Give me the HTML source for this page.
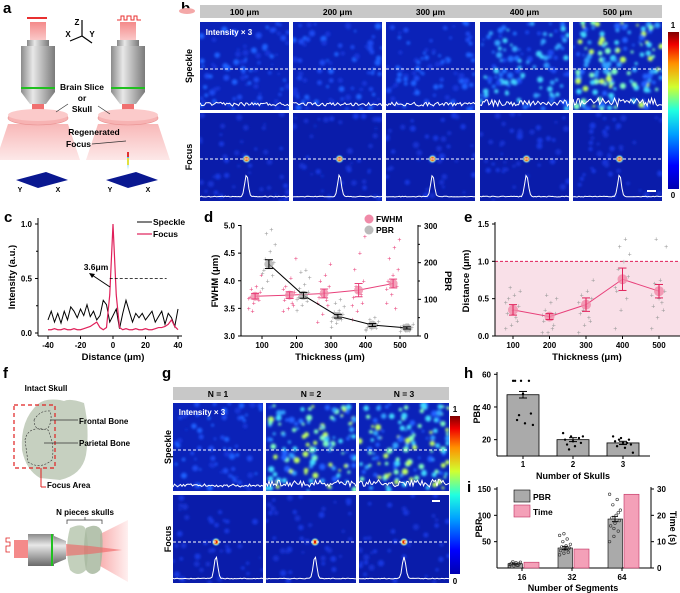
<!DOCTYPE html>
<html><head><meta charset="utf-8"><style>
body{margin:0;background:#fff}
svg{display:block;font-family:"Liberation Sans",Arial,sans-serif}
</style></head><body>
<svg id="fig" width="680" height="593" viewBox="0 0 680 593" xmlns="http://www.w3.org/2000/svg">
<defs>
<filter id="blur" x="-20%" y="-20%" width="140%" height="140%"><feGaussianBlur stdDeviation="1.3"/></filter>
<filter id="sblur" x="-50%" y="-50%" width="200%" height="200%"><feGaussianBlur stdDeviation="0.6"/></filter>
<linearGradient id="jet" x1="0" y1="1" x2="0" y2="0">
<stop offset="0" stop-color="#0000b0"/><stop offset="0.15" stop-color="#0000ff"/><stop offset="0.35" stop-color="#00a0ff"/><stop offset="0.5" stop-color="#20ffe0"/><stop offset="0.65" stop-color="#d0ff30"/><stop offset="0.8" stop-color="#ff9000"/><stop offset="0.92" stop-color="#f00000"/><stop offset="1" stop-color="#800000"/></linearGradient>
<linearGradient id="obj" x1="0" x2="1"><stop offset="0" stop-color="#8a8a8a"/><stop offset="0.35" stop-color="#e8e8e8"/><stop offset="1" stop-color="#7a7a7a"/></linearGradient>
<linearGradient id="objh" x1="0" y1="0" x2="0" y2="1"><stop offset="0" stop-color="#8a8a8a"/><stop offset="0.35" stop-color="#e8e8e8"/><stop offset="1" stop-color="#6a6a6a"/></linearGradient>
<linearGradient id="beam" x1="0" y1="0" x2="0" y2="1"><stop offset="0" stop-color="#f48a8a"/><stop offset="1" stop-color="#fbd0d0"/></linearGradient>
<linearGradient id="cone" x1="0" y1="0" x2="0" y2="1"><stop offset="0" stop-color="#f8b8b8"/><stop offset="1" stop-color="#fde8e8"/></linearGradient>
<linearGradient id="coneh" x1="0" x2="1"><stop offset="0" stop-color="#f8b0b0"/><stop offset="1" stop-color="#fff0f0"/></linearGradient>
</defs>
<g id="root"></g>
</svg>
<script>
const cDist = [-40,-38,-36,-34,-32,-30,-28,-26,-24,-22,-20,-18,-16,-14,-12,-10,-8,-6,-4,-2,0,2,4,6,8,10,12,14,16,18,20,22,24,26,28,30,32,34,36,38,40];
const cSpeckle = [0.12,0.2,0.1,0.18,0.09,0.2,0.12,0.24,0.2,0.14,0.22,0.16,0.26,0.15,0.2,0.12,0.16,0.3,0.26,0.1,0.16,0.22,0.04,0.18,0.3,0.2,0.1,0.18,0.14,0.18,0.12,0.16,0.2,0.1,0.15,0.2,0.08,0.18,0.14,0.06,0.22];
const cFocus = [0.03,0.03,0.04,0.03,0.03,0.04,0.03,0.03,0.04,0.03,0.03,0.04,0.05,0.06,0.08,0.1,0.05,0.03,0.05,0.35,1.0,0.35,0.05,0.03,0.04,0.03,0.03,0.04,0.03,0.03,0.04,0.03,0.03,0.04,0.05,0.05,0.06,0.08,0.12,0.06,0.03];
const dThick = [100,200,300,400,500];
const dFwhmMean = [3.72,3.74,3.77,3.83,3.95];
const dFwhmErr = [0.05,0.06,0.08,0.12,0.08];
const dPbrMean = [196,111,54,30,22];
const dPbrErr = [12,8,5,4,3];
const dFwhmPts = [[3.5,3.6,3.65,3.7,3.75,3.8,3.85,3.9,4.1,3.45,3.72,3.68],[3.45,3.5,3.55,3.65,3.7,3.8,3.9,4.05,4.4,3.75,3.6,3.85],[3.25,3.4,3.55,3.7,3.8,3.9,4.0,4.1,4.3,3.75,3.65,3.6],[3.3,3.45,3.6,3.7,3.8,4.0,4.2,4.5,4.8,3.9,3.75,3.55],[3.6,3.75,3.9,4.0,4.1,4.2,4.4,4.6,4.75,3.95,3.5,3.85]];
const dPbrPts = [[130,150,165,180,190,200,210,230,250,280,290,170],[70,85,95,105,110,120,130,140,160,175,180,100],[25,35,45,50,55,60,65,70,80,90,100,40],[15,20,22,25,28,30,32,35,40,45,50,18],[12,15,18,20,22,25,28,30,33,20,15,25]];
const eMean = [0.35,0.26,0.42,0.76,0.60];
const eErr = [0.07,0.04,0.09,0.15,0.09];
const ePts = [[0.1,0.15,0.2,0.3,0.35,0.4,0.5,0.55,0.6,0.65,0.25,0.45],[0.05,0.05,0.15,0.2,0.25,0.3,0.35,0.45,0.5,0.55,0.1,0.28],[0.05,0.15,0.2,0.3,0.4,0.5,0.55,0.6,0.75,0.35,0.25,0.45],[0.1,0.35,0.5,0.6,0.7,0.8,0.9,1.0,1.1,1.2,1.3,0.65],[0.1,0.25,0.35,0.4,0.5,0.6,0.7,0.75,1.2,1.3,0.45,0.55]];
const hCats = ["1","2","3"];
const hMean = [47.5,20,18];
const hErr = [2,1.2,1];
const hPts = [[56,56,56,56,48,36,32,30,29,35],[24,22,21,20,19,18,17,16,22,14],[22,21,20,19,18,17,16,15,12,20,18]];
const iCats = ["16","32","64"];
const iPbr = [8,38,93];
const iPbrErr = [1,3,5];
const iTime = [2.2,7.2,28];
const iPbrPts = [[3,4,5,6,7,8,9,10,11,12,5,7],[25,28,30,33,35,38,40,42,45,50,55,62,65,36],[50,60,70,80,85,90,95,100,110,120,130,140,75,105]];
const bCols = ["100 μm","200 μm","300 μm","400 μm","500 μm"];
const gCols = ["N = 1","N = 2","N = 3"];

const NS="http://www.w3.org/2000/svg";
const root=document.getElementById('root');
function el(tag,attrs,parent,txt){const e=document.createElementNS(NS,tag);for(const k in attrs)e.setAttribute(k,attrs[k]);if(txt!==undefined)e.textContent=txt;(parent||root).appendChild(e);return e;}
function lin(d0,d1,r0,r1){return v=>r0+(v-d0)*(r1-r0)/(d1-d0);}
function txt(x,y,s,opt,p){opt=opt||{};const t=el('text',Object.assign({x:x,y:y,'font-size':opt.fs||9,'font-weight':opt.fw||'bold','text-anchor':opt.a||'middle',fill:opt.fill||'#000'},opt.tr?{transform:opt.tr}:{}),p,s);return t;}
function line(x1,y1,x2,y2,st,w,p,extra){return el('line',Object.assign({x1:x1,y1:y1,x2:x2,y2:y2,stroke:st||'#000','stroke-width':w||1},extra||{}),p);}
function jit(i){return ((i*37)%11-5)*0.9;}

[["a",3,13],["b",181,13],["c",4,222],["d",204,222],["e",464,222],["f",3,378],["g",162,378],["h",464,378],["i",467,492]].forEach(p=>{const t=txt(p[1],p[2],p[0],{fs:15,a:'start'});});

const pa=el('g',{});  
function objective(cx,p){
  el('rect',{x:cx-8,y:22,width:16,height:20,fill:'url(#beam)'},p);
  el('rect',{x:cx-11,y:40,width:22,height:6,fill:'url(#obj)'},p);
  el('path',{d:`M${cx-17},46 h34 v46 l-9,12 h-16 l-9,-12 z`,fill:'url(#obj)'},p);
  el('rect',{x:cx-17,y:87,width:34,height:2,fill:'#20c020'},p);
  el('rect',{x:cx-6,y:104,width:12,height:10,fill:'#f07070'},p);
  el('path',{d:`M${cx-30},124 L${cx+30},124 L${cx+42},160 L${cx-42},160 z`,fill:'url(#cone)'},p);
  el('ellipse',{cx:cx,cy:118,rx:30,ry:7,fill:'#f7b3b3',stroke:'#e89090','stroke-width':0.6},p);
  el('ellipse',{cx:cx,cy:115,rx:30,ry:6,fill:'#fbcaca'},p);
  el('path',{d:`M${cx-22},180 l30,-8 l22,8 l-30,8 z`,fill:'#0a1890'},p);
  txt(cx-18,192,'Y',{fs:7},p); txt(cx+20,192,'X',{fs:7},p);
}
objective(38,pa); objective(128,pa);
el('rect',{x:27,y:17,width:20,height:2,fill:'#e83030'},pa);
el('polyline',{points:'117,20 121,20 121,16 124,16 124,20 127,20 127,16 131,16 131,20 134,20 134,16 137,16 137,20 141,20',fill:'none',stroke:'#e83030','stroke-width':1},pa);
el('path',{d:'M128,170 l-1,-14 h2 z',fill:'#40c0ff'},pa); el('rect',{x:127,y:158,width:2,height:7,fill:'#e0e040'},pa); el('rect',{x:127,y:152,width:2,height:5,fill:'#e03030'},pa);
line(82,36,82,20,'#000',1.2,pa); line(82,36,70,41,'#000',1.2,pa); line(82,36,92,43,'#000',1.2,pa);
txt(77,25,'Z',{fs:8},pa); txt(68,37,'X',{fs:8},pa); txt(92,37,'Y',{fs:8},pa);
txt(82,90,'Brain Slice',{fs:8.5},pa); txt(82,101,'or',{fs:8.5},pa); txt(82,112,'Skull',{fs:8.5},pa);
line(68,104,56,112,'#333',0.7,pa); line(98,106,110,114,'#333',0.7,pa);
txt(94,135,'Regenerated',{fs:8.5},pa); txt(66,147,'Focus',{fs:8.5,a:'start'},pa); line(92,144,126,141,'#333',0.7,pa);

function rng(s){return ()=>{s=(s*1103515245+12345)%2147483648;return s/2147483648;};}
let clipId=0;
function heat(x,y,w,h,level,seed,focus,dashY,nameStr){
  const g=el('g',{});  
  const cid='cl'+(clipId++); const cp=el('clipPath',{id:cid},g); el('rect',{x:x,y:y,width:w,height:h},cp);
  el('rect',{x:x,y:y,width:w,height:h,fill:focus?'#0a1caa':'#0b22b8'},g);
  const bl=el('g',{'clip-path':`url(#${cid})`},g); const bb=el('g',{filter:'url(#blur)'},bl);
  const r=rng(seed); const n=focus?40:Math.round(60+level*90);
  const cols=focus?['#1530d0','#1838e0']:(level<0.3?['#1535d8','#1a48f0','#1e60ff']:level<0.7?['#1a48f0','#2070ff','#30a0ff','#40d0ff']:['#2060ff','#30a0ff','#40d8ff','#80ffc0','#c0ff60']);
  for(let i=0;i<n;i++){el('circle',{cx:x+r()*w,cy:y+r()*h,r:1.2+r()*2,fill:cols[Math.floor(r()*cols.length)]},bb);}
  const by=y+h-4; let pts=[];
  if(focus){const cx=x+w*0.5+(seed%5-2)*2;const sg=el('g',{filter:'url(#sblur)'},bl);
    el('circle',{cx:cx,cy:dashY,r:3.6,fill:'#40d0ff'},sg);el('circle',{cx:cx,cy:dashY,r:2.8,fill:'#ffe020'},sg);el('circle',{cx:cx,cy:dashY,r:1.9,fill:'#e00000'},sg);
    for(let i=0;i<=60;i++){const px=x+i*w/60;const d=(px-cx)/2.5;pts.push(px.toFixed(1)+','+(by-22*Math.exp(-d*d)-r()*0.8).toFixed(1));}}
  else{for(let i=0;i<=60;i++){pts.push((x+i*w/60).toFixed(1)+','+(by-r()*(2+level*7)).toFixed(1));}}
  el('polyline',{points:pts.join(' '),fill:'none',stroke:'#fff','stroke-width':1},bl);
  line(x,dashY,x+w,dashY,'#fff',1,g,{'stroke-dasharray':'3,2'});
  return g;
}
el('rect',{x:200,y:5,width:462,height:13,fill:'#c8c8c8'});
el('ellipse',{cx:187,cy:11,rx:8,ry:3,fill:'#f4a8a8'});
const bx=[200,293,386,480,573], bw=89;
const bLevels=[0.25,0.2,0.25,0.6,0.85];
bCols.forEach((c,i)=>{txt(bx[i]+bw/2,15,c,{fs:8.5,name:'b-column-title'});
  heat(bx[i],22,bw,88,bLevels[i],11+i*7,false,69,'b-speckle-image');
  heat(bx[i],113,bw,88,0,53+i*5,true,159,'b-focus-image');});
txt(229,35,'Intensity × 3',{fs:8,fill:'#fff'});
el('rect',{x:647,y:190,width:9,height:2,fill:'#fff'});
txt(192,66,'Speckle',{fs:9,tr:'rotate(-90 192 66)'}); txt(192,157,'Focus',{fs:9,tr:'rotate(-90 192 157)'});
el('rect',{x:668,y:32,width:11,height:157,fill:'url(#jet)'});
txt(673,28,'1',{fs:8}); txt(673,198,'0',{fs:8});

el('rect',{x:173,y:387,width:276,height:13,fill:'#c8c8c8'});
const gx=[173,266,359], gw=90, gLevels=[0.15,0.75,0.8];
gCols.forEach((c,i)=>{txt(gx[i]+gw/2,397,c,{fs:8.5,name:'g-column-title'});
  heat(gx[i],403,gw,88,gLevels[i],91+i*13,false,450,'g-speckle-image');
  heat(gx[i],495,gw,88,0.3,131+i*3,true,542,'g-focus-image');});
txt(202,415,'Intensity × 3',{fs:8,fill:'#fff'});
el('rect',{x:432,y:500,width:8,height:2,fill:'#fff'});
txt(171,447,'Speckle',{fs:9,tr:'rotate(-90 171 447)'}); txt(171,539,'Focus',{fs:9,tr:'rotate(-90 171 539)'});
el('rect',{x:450,y:416,width:10,height:158,fill:'url(#jet)'});
txt(455,412,'1',{fs:8}); txt(455,584,'0',{fs:8});

const pf=el('g',{});  
el('path',{d:'M38,404 Q45,398 60,400 L64,401 Q70,398 84,403 Q90,430 86,455 Q82,475 60,480 L40,478 Q26,470 22,450 Q20,420 38,404 z',fill:'#b8c4b0',opacity:0.8},pf);
el('path',{d:'M34,420 Q40,410 50,411 Q53,420 48,428 Q40,432 35,426 z',fill:'none',stroke:'#333','stroke-dasharray':'2,1.5','stroke-width':0.6},pf);
el('path',{d:'M25,440 Q28,425 48,430 Q55,445 52,460 Q40,470 28,462 z',fill:'none',stroke:'#333','stroke-dasharray':'2,1.5','stroke-width':0.6},pf);
el('rect',{x:14,y:405,width:41,height:63,fill:'none',stroke:'#e02020','stroke-width':1.2,'stroke-dasharray':'4,3'},pf);
line(41,468,41,487,'#e02020',1,pf); line(41,487,46,487,'#e02020',1,pf);
line(50,420,78,420,'#333',0.7,pf); line(44,443,78,443,'#333',0.7,pf);
txt(46,391,'Intact Skull',{fs:8},pf); txt(79,424,'Frontal Bone',{fs:8,a:'start'},pf); txt(79,446,'Parietal Bone',{fs:8,a:'start'},pf); txt(47,488,'Focus Area',{fs:8,a:'start'},pf);
txt(85,515,'N pieces skulls',{fs:8},pf);
el('path',{d:'M67,524 v-4 h35 v4',fill:'none',stroke:'#333','stroke-width':0.7},pf); line(85,520,85,517,'#333',0.7,pf);
el('path',{d:'M100,534 L128,520 L128,582 L100,566 z',fill:'url(#coneh)'},pf);
el('rect',{x:14,y:540,width:14,height:18,fill:'#f48a8a'},pf);
el('polyline',{points:'10,538 6,538 6,542 10,542 10,546 6,546 6,552 10,552',fill:'none',stroke:'#e02020','stroke-width':0.8},pf);
el('rect',{x:28,y:534,width:26,height:32,fill:'url(#objh)'},pf); el('rect',{x:51,y:534,width:2,height:32,fill:'#20c020'},pf);
el('path',{d:'M54,536 L66,541 L66,559 L54,564 z',fill:'url(#objh)'},pf);
el('path',{d:'M70,528 Q84,522 86,530 Q90,550 86,570 Q78,578 70,570 Q64,550 70,528 z',fill:'#b8c8b0',opacity:0.85},pf);
el('path',{d:'M86,528 Q98,522 102,532 Q104,550 100,570 Q92,578 86,570 Q82,550 86,528 z',fill:'#a8b8a0',opacity:0.85},pf);
el('path',{d:'M66,544 L90,546 L122,550 L90,554 L66,556 z',fill:'#f06060',opacity:0.6},pf);

const pc=el('g',{});  
const cx=lin(-40,40,48,178), cy=lin(0,1,333,224);
line(38,218,38,336,'#000',1,pc); line(38,336,182,336,'#000',1,pc);
[0,0.5,1].forEach(v=>{line(35,cy(v),38,cy(v),'#000',1,pc);txt(32,cy(v)+3,v.toFixed(1),{fs:8,a:'end',name:'c-y-tick'},pc);});
[0.25,0.75].forEach(v=>line(36,cy(v),38,cy(v),'#000',1,pc));
[-40,-20,0,20,40].forEach(v=>{line(cx(v),336,cx(v),339,'#000',1,pc);txt(cx(v),348,String(v),{fs:8,name:'c-x-tick'},pc);});
txt(113,360,'Distance (μm)',{fs:9.5,name:'c-x-axis-title'},pc);
txt(15,277,'Intensity (a.u.)',{fs:9.5,tr:'rotate(-90 15 277)',name:'c-y-axis-title'},pc);
el('polyline',{points:cDist.map((d,i)=>cx(d)+','+cy(cSpeckle[i])).join(' '),fill:'none',stroke:'#000','stroke-width':1},pc);
el('polyline',{points:cDist.map((d,i)=>cx(d)+','+cy(cFocus[i])).join(' '),fill:'none',stroke:'#e0205a','stroke-width':1.2},pc);
line(cx(-2),cy(0.5),cx(33),cy(0.5),'#000',0.7,pc,{'stroke-dasharray':'3,2'});
line(110,287,92,275,'#000',1,pc); el('path',{d:'M89,273 l6,1 l-3,4 z',fill:'#000'},pc);
txt(96,270,'3.6μm',{fs:8.5},pc);
line(137,222,152,222,'#000',1,pc); txt(153,225,'Speckle',{fs:8.5,a:'start'},pc);
line(137,234,152,234,'#e0205a',1.2,pc); txt(153,237,'Focus',{fs:8.5,a:'start'},pc);

const pd=el('g',{});  
const dx=lin(100,500,262,400), dyL=lin(3,5,336,225.5), dyR=lin(0,300,336,226);
line(241,225,241,336,'#000',1,pd); line(241,336,418,336,'#000',1,pd); line(418,225,418,336,'#000',1,pd);
[3,3.5,4,4.5,5].forEach(v=>{line(238,dyL(v),241,dyL(v),'#000',1,pd);txt(235,dyL(v)+3,v.toFixed(1),{fs:8,a:'end',name:'d-left-tick'},pd);});
[0,100,200,300].forEach(v=>{line(418,dyR(v),421,dyR(v),'#000',1,pd);txt(424,dyR(v)+3,String(v),{fs:8,a:'start',name:'d-right-tick'},pd);});
[50,150,250].forEach(v=>line(418,dyR(v),420,dyR(v),'#000',1,pd));
dThick.forEach(v=>{line(dx(v),336,dx(v),339,'#000',1,pd);txt(dx(v),348,String(v),{fs:8,name:'d-x-tick'},pd);});
txt(330,360,'Thickness (μm)',{fs:9.5,name:'d-x-axis-title'},pd);
txt(218,281,'FWHM (μm)',{fs:9.5,tr:'rotate(-90 218 281)',name:'d-left-axis-title'},pd);
txt(445,281,'PBR',{fs:9.5,tr:'rotate(90 445 281)',name:'d-right-axis-title'},pd);
dThick.forEach((t,g)=>{
  dFwhmPts[g].forEach((v,i)=>{const p=el('text',{x:dx(t-20)+jit(i)*1.4,y:dyL(v)+2.5,'font-size':7,'text-anchor':'middle',fill:'#e8407a'},pd,'+');});
  dPbrPts[g].forEach((v,i)=>{const p=el('text',{x:dx(t+20)+jit(i)*1.4,y:dyR(v)+2.5,'font-size':7,'text-anchor':'middle',fill:'#999'},pd,'+');});
});
function errbar(x,y1,y2,col,p,w){w=w||4;line(x,y1,x,y2,col,1,p);line(x-w,y1,x+w,y1,col,1,p);line(x-w,y2,x+w,y2,col,1,p);}
el('polyline',{points:dThick.map((t,i)=>dx(t+20)+','+dyR(dPbrMean[i])).join(' '),fill:'none',stroke:'#000','stroke-width':1},pd);
el('polyline',{points:dThick.map((t,i)=>dx(t-20)+','+dyL(dFwhmMean[i])).join(' '),fill:'none',stroke:'#e8407a','stroke-width':1},pd);
dThick.forEach((t,i)=>{
  const c=el('circle',{cx:dx(t+20),cy:dyR(dPbrMean[i]),r:4.5,fill:'#aaa',opacity:0.75},pd);
  errbar(dx(t+20),dyR(dPbrMean[i]-dPbrErr[i]),dyR(dPbrMean[i]+dPbrErr[i]),'#000',pd);
  const m=el('circle',{cx:dx(t-20),cy:dyL(dFwhmMean[i]),r:4.5,fill:'#f08aa8',opacity:0.8},pd);
  errbar(dx(t-20),dyL(dFwhmMean[i]-dFwhmErr[i]),dyL(dFwhmMean[i]+dFwhmErr[i]),'#e8407a',pd);
});
el('circle',{cx:369,cy:219,r:4.5,fill:'#f08aa8'},pd); txt(376,222,'FWHM',{fs:8.5,a:'start'},pd);
el('circle',{cx:369,cy:230,r:4.5,fill:'#bbb'},pd); txt(376,233,'PBR',{fs:8.5,a:'start'},pd);

const pe=el('g',{});  
const ex=lin(100,500,513,659), ey=lin(0,1.5,336,224);
el('rect',{x:495,y:ey(1),width:185,height:336-ey(1),fill:'#f9e0e8'},pe);
line(495,ey(1),680,ey(1),'#e0205a',1,pe,{'stroke-dasharray':'3,2'});
line(495,222,495,336,'#000',1,pe); line(495,336,680,336,'#000',1,pe);
[0,0.5,1,1.5].forEach(v=>{line(492,ey(v),495,ey(v),'#000',1,pe);txt(489,ey(v)+3,v.toFixed(1),{fs:8,a:'end',name:'e-y-tick'},pe);});
dThick.forEach(v=>{line(ex(v),336,ex(v),339,'#000',1,pe);txt(ex(v),348,String(v),{fs:8,name:'e-x-tick'},pe);});
txt(587,360,'Thickness (μm)',{fs:9.5,name:'e-x-axis-title'},pe);
txt(469,281,'Distance (μm)',{fs:9.5,tr:'rotate(-90 469 281)',name:'e-y-axis-title'},pe);
dThick.forEach((t,g)=>{ePts[g].forEach((v,i)=>{const p=el('text',{x:ex(t)+jit(i)*1.6,y:ey(v)+2.5,'font-size':7,'text-anchor':'middle',fill:'#999'},pe,'+');});});
el('polyline',{points:dThick.map((t,i)=>ex(t)+','+ey(eMean[i])).join(' '),fill:'none',stroke:'#e8407a','stroke-width':1},pe);
dThick.forEach((t,i)=>{const m=el('circle',{cx:ex(t),cy:ey(eMean[i]),r:5,fill:'#f08aa8',opacity:0.8},pe);
  errbar(ex(t),ey(eMean[i]-eErr[i]),ey(eMean[i]+eErr[i]),'#e0205a',pe);});

const ph=el('g',{});  
const hx=[523,573,623], hy=lin(10,60,456,374.3);
line(497,372,497,456,'#000',1,ph); line(497,456,650,456,'#000',1,ph);
[20,40,60].forEach(v=>{line(494,hy(v),497,hy(v),'#000',1,ph);txt(491,hy(v)+3,String(v),{fs:8,a:'end',name:'h-y-tick'},ph);});
hCats.forEach((c,i)=>{
  const b=el('rect',{x:hx[i]-16,y:hy(hMean[i]),width:32,height:456-hy(hMean[i]),fill:'#aaa',stroke:'#000','stroke-width':0.8},ph);
  errbar(hx[i],hy(hMean[i]-hErr[i]),hy(hMean[i]+hErr[i]),'#000',ph);
  hPts[i].forEach((v,j)=>{const p=el('circle',{cx:hx[i]+jit(j)*2.2,cy:hy(v),r:1.2,fill:'#000'},ph);});
  line(hx[i],456,hx[i],459,'#000',1,ph); txt(hx[i],467,c,{fs:8,name:'h-x-tick'},ph);
});
txt(573,479,'Number of Skulls',{fs:9,name:'h-x-axis-title'},ph);
txt(480,414,'PBR',{fs:9,tr:'rotate(-90 480 414)',name:'h-y-axis-title'},ph);

const pi=el('g',{});  
const ix=[522,572,622], iyL=lin(0,150,568,489), iyR=lin(0,30,568,489);
line(497,487,497,568,'#000',1,pi); line(497,568,651,568,'#000',1,pi); line(651,487,651,568,'#000',1,pi);
[50,100,150].forEach(v=>{line(494,iyL(v),497,iyL(v),'#000',1,pi);txt(491,iyL(v)+3,String(v),{fs:8,a:'end',name:'i-left-tick'},pi);});
[0,10,20,30].forEach(v=>{line(651,iyR(v),654,iyR(v),'#000',1,pi);txt(657,iyR(v)+3,String(v),{fs:8,a:'start',name:'i-right-tick'},pi);});
iCats.forEach((c,i)=>{
  const b=el('rect',{x:ix[i]-14,y:iyL(iPbr[i]),width:14.5,height:568-iyL(iPbr[i]),fill:'#aaa',stroke:'#000','stroke-width':0.6},pi);
  const t=el('rect',{x:ix[i]+2,y:iyR(iTime[i]),width:15,height:568-iyR(iTime[i]),fill:'#f4a0b8',stroke:'#c03060','stroke-width':0.6},pi);
  errbar(ix[i]-7,iyL(iPbr[i]-iPbrErr[i]),iyL(iPbr[i]+iPbrErr[i]),'#000',pi,3);
  iPbrPts[i].forEach((v,j)=>{const p=el('circle',{cx:ix[i]-7+jit(j)*1.2,cy:iyL(v),r:1.3,fill:'none',stroke:'#333','stroke-width':0.6},pi);});
  line(ix[i],568,ix[i],571,'#000',1,pi); txt(ix[i],580,c,{fs:8,name:'i-x-tick'},pi);
});
txt(573,591,'Number of Segments',{fs:9,name:'i-x-axis-title'},pi);
txt(482,528,'PBR',{fs:9,tr:'rotate(-90 482 528)',name:'i-left-axis-title'},pi);
txt(670,528,'Time (s)',{fs:9,tr:'rotate(90 670 528)',name:'i-right-axis-title'},pi);
el('rect',{x:514,y:490,width:16,height:12,fill:'#aaa',stroke:'#000','stroke-width':0.6},pi); txt(533,500,'PBR',{fs:8.5,a:'start'},pi);
el('rect',{x:514,y:505,width:16,height:12,fill:'#f4a0b8',stroke:'#c03060','stroke-width':0.6},pi); txt(533,515,'Time',{fs:8.5,a:'start'},pi);
</script>
</body></html>
